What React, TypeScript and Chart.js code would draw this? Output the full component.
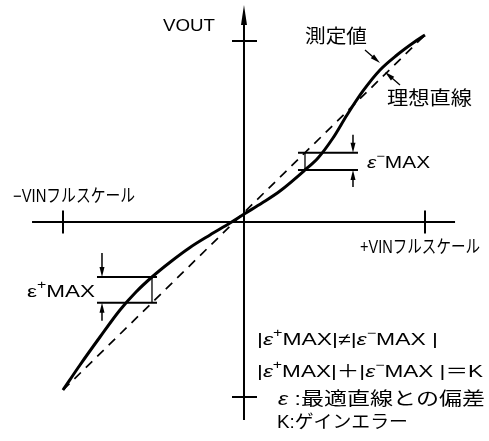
import React, { useEffect, useRef } from "react";
import { Chart, registerables } from "chart.js";

Chart.register(...registerables);

// ---- data (units: % of full scale) ----
const measuredX = [-100, -90.61, -79.56, -68.51, -59.67, -50.83, -40.33, -29.83, -18.78, -7.73, 0.55, 9.94, 19.89, 33.7, 40.88, 49.17, 56.91, 65.75, 75.14, 84.53, 93.37, 100];
const measuredY = [-92.82, -79.01, -63.54, -48.62, -38.67, -30.39, -21.82, -14.09, -7.18, -0.55, 4.7, 10.5, 17.13, 28.73, 35.36, 46.41, 59.12, 72.38, 83.98, 92.27, 98.9, 103.31];
const idealX = [-100, 100];
const idealY = [-92.82, 103.31];
const vinTicks = [-100, 100];
const voutTicks = [-96.7, 100];
const posMaxIndex = 5; // ε+MAX location
const negMaxIndex = 13; // ε−MAX location

const FONT = "'Liberation Sans', 'Noto Sans CJK JP', sans-serif";

type Seg = { t: string; sup?: boolean; it?: boolean };

function idealAt(x: number) {
  return idealY[0] + ((idealY[1] - idealY[0]) * (x - idealX[0])) / (idealX[1] - idealX[0]);
}

function drawRich(ctx: CanvasRenderingContext2D, segs: Seg[], x: number, y: number, size: number, targetW: number) {
  ctx.save();
  ctx.textBaseline = "middle";
  ctx.textAlign = "left";
  ctx.fillStyle = "#000";
  const fontFor = (s: Seg) => `${s.it ? "italic " : ""}${s.sup ? Math.round(size * 0.68) : size}px ${FONT}`;
  let natural = 0;
  for (const s of segs) {
    ctx.font = fontFor(s);
    natural += ctx.measureText(s.t).width;
  }
  const sx = targetW / natural;
  ctx.translate(x, y);
  ctx.scale(sx, 1);
  let cx = 0;
  for (const s of segs) {
    ctx.font = fontFor(s);
    ctx.fillText(s.t, cx, s.sup ? -size * 0.38 : 0);
    cx += ctx.measureText(s.t).width;
  }
  ctx.restore();
}

function line(ctx: CanvasRenderingContext2D, x1: number, y1: number, x2: number, y2: number, lw: number) {
  ctx.beginPath();
  ctx.lineWidth = lw;
  ctx.moveTo(x1, y1);
  ctx.lineTo(x2, y2);
  ctx.stroke();
}

function arrow(ctx: CanvasRenderingContext2D, x1: number, y1: number, x2: number, y2: number, len = 10, half = 2.5, lw = 1.5) {
  const a = Math.atan2(y2 - y1, x2 - x1);
  const c = Math.cos(a), s = Math.sin(a);
  line(ctx, x1, y1, x2 - c * len * 0.5, y2 - s * len * 0.5, lw);
  const bx = x2 - c * len, by = y2 - s * len;
  ctx.beginPath();
  ctx.moveTo(x2, y2);
  ctx.lineTo(bx - s * half, by + c * half);
  ctx.lineTo(bx + s * half, by - c * half);
  ctx.closePath();
  ctx.fill();
}

const figurePlugin = {
  id: "figure",
  beforeDatasetsDraw(chart: any) {
    const ctx: CanvasRenderingContext2D = chart.ctx;
    const X = (v: number) => chart.scales.x.getPixelForValue(v);
    const Y = (v: number) => chart.scales.y.getPixelForValue(v);
    const ox = X(0), oy = Y(0);
    ctx.save();
    ctx.strokeStyle = "#000";
    ctx.fillStyle = "#000";
    ctx.lineCap = "butt";
    // axes
    line(ctx, X(-117.1), oy, X(116.6), oy, 2);
    line(ctx, ox, Y(-109.4), ox, Y(110), 2);
    // top arrowhead
    const tip = Y(119.9);
    ctx.beginPath();
    ctx.moveTo(ox, tip);
    ctx.lineTo(ox - 3, tip + 20);
    ctx.lineTo(ox + 3, tip + 20);
    ctx.closePath();
    ctx.fill();
    // ticks
    vinTicks.forEach((v) => line(ctx, X(v), oy - 11.5, X(v), oy + 11.5, 2));
    voutTicks.forEach((v) => line(ctx, ox - 12, Y(v), ox + 13, Y(v), 2));
    ctx.restore();
  },
  afterDatasetsDraw(chart: any) {
    const ctx: CanvasRenderingContext2D = chart.ctx;
    const X = (v: number) => chart.scales.x.getPixelForValue(v);
    const Y = (v: number) => chart.scales.y.getPixelForValue(v);
    ctx.save();
    ctx.strokeStyle = "#000";
    ctx.fillStyle = "#000";

    // ε−MAX box (measured below ideal)
    {
      const xv = measuredX[negMaxIndex];
      const xm = X(xv);
      const yLow = Y(measuredY[negMaxIndex]);
      const yUp = Y(idealAt(xv));
      line(ctx, xm - 7, yUp, xm + 53, yUp, 2);
      line(ctx, xm - 7, yLow, xm + 53, yLow, 2);
      line(ctx, xm, yUp, xm, yLow, 1.3);
      const xa = xm + 48;
      arrow(ctx, xa, yUp - 18, xa, yUp);
      arrow(ctx, xa, yLow + 17, xa, yLow);
    }
    // ε+MAX box (measured above ideal)
    {
      const xv = measuredX[posMaxIndex];
      const xm = X(xv);
      const yUp = Y(measuredY[posMaxIndex]);
      const yLow = Y(idealAt(xv));
      line(ctx, xm - 55, yUp, xm + 5, yUp, 2);
      line(ctx, xm - 55, yLow, xm + 5, yLow, 2);
      line(ctx, xm, yUp, xm, yLow, 1.3);
      const xa = xm - 50;
      arrow(ctx, xa, yUp - 24, xa, yUp);
      arrow(ctx, xa, yLow + 18, xa, yLow);
    }
    // leaders
    arrow(ctx, X(66.85), Y(95.03), X(75.14), Y(87.85), 10, 2.5, 1.3);
    arrow(ctx, X(86.19), Y(75.69), X(77.9), Y(82.87), 10, 2.5, 1.3);

    // labels
    drawRich(ctx, [{ t: "VOUT" }], X(-44.8), Y(107.7), 16, 52);
    drawRich(ctx, [{ t: "測定値" }], X(33.7), Y(101.7), 19, 62);
    drawRich(ctx, [{ t: "理想直線" }], X(79.0), Y(67.4), 19, 85);
    drawRich(ctx, [{ t: "−VINフルスケール" }], X(-127.6), Y(13.8), 18, 122);
    drawRich(ctx, [{ t: "+VINフルスケール" }], X(64.1), Y(-14.4), 18, 120);
    drawRich(ctx, [{ t: "ε", it: true }, { t: "−", sup: true }, { t: "MAX" }], X(68.0), Y(32.6), 17, 63);
    drawRich(ctx, [{ t: "ε" }, { t: "+", sup: true }, { t: "MAX" }], X(-119.9), Y(-38.7), 17, 68);
    drawRich(
      ctx,
      [{ t: "|" }, { t: "ε", it: true }, { t: "+", sup: true }, { t: "MAX|≠|" }, { t: "ε", it: true }, { t: "−", sup: true }, { t: "MAX |" }],
      X(7.2), Y(-65.2), 17, 181
    );
    drawRich(
      ctx,
      [{ t: "|" }, { t: "ε", it: true }, { t: "+", sup: true }, { t: "MAX|＋|" }, { t: "ε", it: true }, { t: "−", sup: true }, { t: "MAX |＝K" }],
      X(7.2), Y(-82.9), 17, 226
    );
    drawRich(ctx, [{ t: "ε", it: true }, { t: " :最適直線との偏差" }], X(18.8), Y(-98.3), 18, 207);
    drawRich(ctx, [{ t: "K:ゲインエラー" }], X(18.2), Y(-111.0), 18, 131);
    ctx.restore();
  },
};

export default function App() {
  const ref = useRef<HTMLCanvasElement>(null);
  useEffect(() => {
    if (!ref.current) return;
    const chart = new Chart(ref.current, {
      type: "line",
      data: {
        datasets: [
          {
            label: "測定値",
            data: measuredX.map((x, i) => ({ x, y: measuredY[i] })),
            borderColor: "#000",
            borderWidth: 3,
            pointRadius: 0,
            cubicInterpolationMode: "monotone",
            fill: false,
          },
          {
            label: "理想直線",
            data: idealX.map((x, i) => ({ x, y: idealY[i] })),
            borderColor: "#000",
            borderWidth: 1.7,
            borderDash: [9, 7],
            pointRadius: 0,
            fill: false,
          },
        ],
      },
      options: {
        animation: false,
        responsive: false,
        maintainAspectRatio: false,
        devicePixelRatio: 1,
        layout: { padding: 0 },
        plugins: { legend: { display: false }, tooltip: { enabled: false } },
        scales: {
          x: { type: "linear", display: false, min: -134.8, max: 135.36 },
          y: { type: "linear", display: false, min: -121.0, max: 122.65 },
        },
      },
      plugins: [figurePlugin],
    } as any);
    return () => chart.destroy();
  }, []);
  return (
    <div style={{ position: "fixed", left: 0, top: 0, width: 489, height: 441, background: "#fff" }}>
      <canvas ref={ref} width={489} height={441} style={{ display: "block" }} />
    </div>
  );
}
